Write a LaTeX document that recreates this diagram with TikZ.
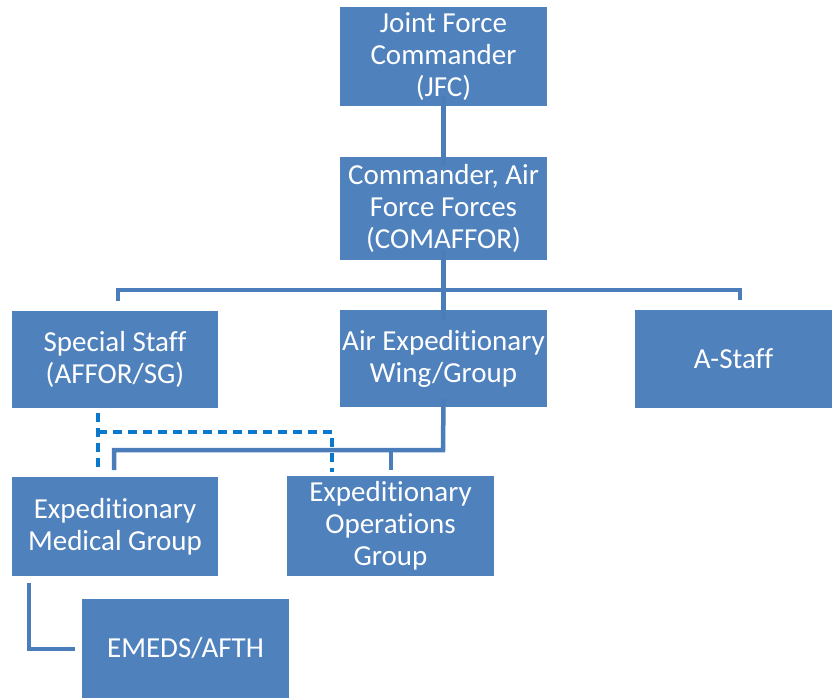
\documentclass[tikz,border=0pt]{standalone}
\usepackage{fontspec}
\setmainfont{Carlito}[Ligatures={NoCommon}]
\begin{document}
\begin{tikzpicture}[x=1pt,y=-1pt,
  box/.style={fill=boxblue, draw=none, text=white, inner sep=0pt, align=center,
    font=\fontsize{29}{32}\selectfont},
  conn/.style={draw=lineblue, line width=4.5pt},
  dconn/.style={draw=dashblue, line width=3.5pt, dash pattern=on 9pt off 6pt}]
\definecolor{boxblue}{HTML}{4F81BD}
\definecolor{lineblue}{HTML}{4A7DBA}
\definecolor{dashblue}{HTML}{0A78CC}
\useasboundingbox (0,0) rectangle (832,698);
\newcommand{\bx}[6]{\node[box, minimum width=#4-#2, minimum height=#5-#3] (#1) at ({(#2+#4)/2},{(#3+#5)/2}) {#6};}
\bx{jfc}{340}{7}{547}{106}{Joint Force\\Commander\\(JFC)}
\bx{com}{340}{157}{547}{260}{Commander, Air\\Force Forces\\(COMAFFOR)}
\bx{ss}{12}{311}{218}{408}{Special Staff\\(AFFOR/SG)}
\bx{aew}{340}{310}{547}{407}{Air Expeditionary\\Wing/Group}
\bx{as}{635}{310}{832}{408}{A-Staff}
\bx{emg}{12}{477}{218}{576}{Expeditionary\\Medical Group}
\bx{eog}{287}{476}{494}{576}{Expeditionary\\Operations\\Group}
\bx{emeds}{82}{599}{289}{698}{EMEDS/AFTH}
% connectors
\draw[conn] ([yshift=10]jfc.south) -- ([yshift=-9]com.north);
\coordinate (busc) at (443,290);
\draw[conn] ([yshift=9]com.south) -- ([yshift=-10]aew.north);
\draw[conn] (118,301) |- (busc) -| (740,300);
\draw[conn] ([yshift=8]aew.south) -- (443,450) -| (114,470);
\draw[conn] (391,450) -- (391,470);
\draw[dconn] (98,413) -- (98,472);
\draw[dconn] (98,432) -- (332,432) -- (332,472);
\draw[conn] (29,583) |- ([xshift=-7]emeds.west |- 0,649);
\end{tikzpicture}
\end{document}
